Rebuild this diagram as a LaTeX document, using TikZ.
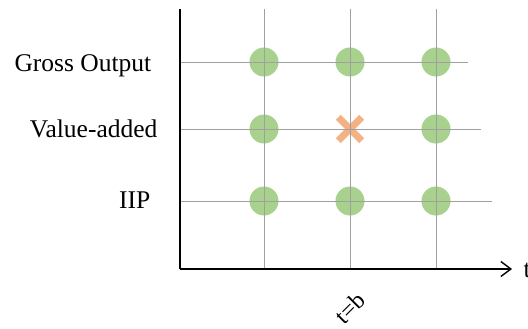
\documentclass[tikz,border=0pt]{standalone}
\usepackage{fontspec}
\setmainfont{Liberation Serif}
\usetikzlibrary{arrows.meta}
\definecolor{dotgreen}{RGB}{169,209,142}
\definecolor{crossorange}{RGB}{244,177,131}
\definecolor{gridgray}{RGB}{160,160,160}
\tikzset{
  rowlabel/.style={anchor=base east, inner sep=0pt, font=\fontsize{25.5}{28}\selectfont},
  gridline/.style={draw=gridgray, line width=0.9pt},
  axisline/.style={draw=black, line width=1.6pt},
  dot/.style={circle, fill=dotgreen, minimum size=29pt, inner sep=0pt},
  crossmark/.style={minimum size=23pt, inner sep=0pt},
}
\begin{document}
\begin{tikzpicture}[x=1pt, y=-1pt]
  \useasboundingbox (0,0) rectangle (528,329);
  \fill[white] (0,0) rectangle (528,329);

  % axes corner and ends
  \coordinate (origin) at (180,269);
  \coordinate (ytop) at (180,9);
  \coordinate (xend) at (512,269);

  % grid anchors
  \coordinate (c1top) at (264,9);   \coordinate (c1bot) at (264,269);
  \coordinate (c2top) at (350,9);   \coordinate (c2bot) at (350,269);
  \coordinate (c3top) at (436,9);   \coordinate (c3bot) at (436,269);
  \coordinate (r1l) at (180,62);    \coordinate (r1r) at (468,62);
  \coordinate (r2l) at (180,129);   \coordinate (r2r) at (481,129);
  \coordinate (r3l) at (180,201);   \coordinate (r3r) at (492,201);

  % markers
  \node[dot] (d11) at (264,62) {};
  \node[dot] (d12) at (350,62) {};
  \node[dot] (d13) at (436,62) {};
  \node[dot] (d21) at (264,129) {};
  \node[crossmark] (x22) at (350,129) {};
  \node[dot] (d23) at (436,129) {};
  \node[dot] (d31) at (264,201) {};
  \node[dot] (d32) at (350,201) {};
  \node[dot] (d33) at (436,201) {};
  \draw[crossorange, line width=7pt] (x22.south west) -- (x22.north east)
                                     (x22.north west) -- (x22.south east);

  % grid
  \draw[gridline] (c1top) -- (c1bot);
  \draw[gridline] (c2top) -- (c2bot);
  \draw[gridline] (c3top) -- (c3bot);
  \draw[gridline] (r1l) -- (r1r);
  \draw[gridline] (r2l) -- (r2r);
  \draw[gridline] (r3l) -- (r3r);

  % axes
  \draw[axisline] (ytop) -- (origin);
  \draw[axisline, -{Straight Barb[length=10pt, width=15pt, line width=1.4pt]}] (origin) -- (xend);

  % labels
  \node[rowlabel] (go) at (151.5,72) {Gross Output};
  \node[rowlabel] (va) at (157.6,137) {Value-added};
  \node[rowlabel] (iip) at (150.5,208.5) {IIP};
  \node[anchor=base west, inner sep=0pt, font=\fontsize{25.5}{28}\selectfont] (tlab) at (523.5,277) {t};
  \node[rotate=45, inner sep=0pt, font=\fontsize{24}{26}\selectfont] (tb) at (350,308) {t=b};
\end{tikzpicture}
\end{document}
